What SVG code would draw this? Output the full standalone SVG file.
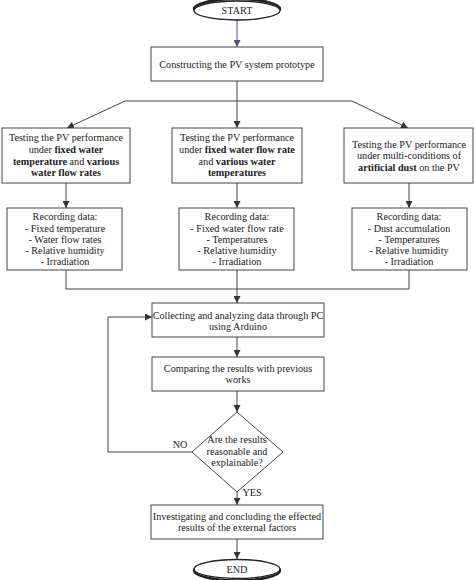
<svg xmlns="http://www.w3.org/2000/svg" width="474" height="580" viewBox="0 0 474 580">
<defs>
<marker id="ah" viewBox="0 0 10 10" refX="10" refY="5" markerWidth="7" markerHeight="7" markerUnits="userSpaceOnUse" orient="auto">
<path d="M0,0 L10,5 L0,10 z" fill="#333"/>
</marker>
<marker id="ahb" viewBox="0 0 10 10" refX="10" refY="5" markerWidth="7" markerHeight="7" markerUnits="userSpaceOnUse" orient="auto">
<path d="M0,0 L10,5 L0,10 z" fill="#3a5a8a"/>
</marker>
<style>
.box{fill:#fff;stroke:#444;stroke-width:1}
.term{fill:#fff;stroke:#222;stroke-width:1.3}
.ln{fill:none;stroke:#444;stroke-width:1}
.t{font-family:"Liberation Serif","Times New Roman",serif;font-size:10.2px;fill:#222;text-anchor:middle}
.b{font-weight:bold}
</style>
</defs>
<rect width="474" height="580" fill="#fff"/>
<g id="connectors">
<line x1="237" y1="20" x2="237" y2="47" stroke="#3a5a8a" stroke-width="1" marker-end="url(#ahb)"/>
<line class="ln" x1="237" y1="81" x2="237" y2="128" marker-end="url(#ah)"/>
<line class="ln" x1="125" y1="101" x2="352" y2="101"/>
<line class="ln" x1="125" y1="101" x2="67" y2="128" marker-end="url(#ah)"/>
<line class="ln" x1="352" y1="101" x2="408" y2="128" marker-end="url(#ah)"/>
<line class="ln" x1="66" y1="183" x2="66" y2="208" marker-end="url(#ah)"/>
<line class="ln" x1="237" y1="183" x2="237" y2="208" marker-end="url(#ah)"/>
<line class="ln" x1="409" y1="183" x2="409" y2="208" marker-end="url(#ah)"/>
<polyline class="ln" points="66,270 66,289 409,289 409,270"/>
<line class="ln" x1="237" y1="270" x2="237" y2="303" marker-end="url(#ah)"/>
<line class="ln" x1="237" y1="337" x2="237" y2="357" marker-end="url(#ah)"/>
<line class="ln" x1="237" y1="391" x2="237" y2="412" marker-end="url(#ah)"/>
<polyline class="ln" points="192,452 108,452 108,317 152,317" marker-end="url(#ah)"/>
<line class="ln" x1="237" y1="492" x2="237" y2="505" marker-end="url(#ah)"/>
<line class="ln" x1="237" y1="539" x2="237" y2="559" marker-end="url(#ah)"/>
<text class="t" x="180" y="448">NO</text>
<text class="t" x="252" y="496">YES</text>
</g>
<g id="start">
<ellipse cx="237" cy="9" rx="43" ry="10" fill="none" stroke="#222" stroke-width="2.5"/>
<ellipse class="term" cx="237" cy="10.5" rx="43" ry="9.5"/>
<text class="t" x="237" y="14">START</text>
</g>
<g id="construct">
<rect class="box" x="151" y="47" width="172" height="34"/>
<text class="t" x="237" y="68">Constructing the PV system prototype</text>
</g>
<g id="test1">
<rect class="box" x="2" y="128" width="128" height="55"/>
<text class="t" x="66" y="141">Testing the PV performance</text>
<text class="t" x="66" y="153">under <tspan class="b">fixed water</tspan></text>
<text class="t" x="66" y="164.5"><tspan class="b">temperature</tspan> and <tspan class="b">various</tspan></text>
<text class="t" x="66" y="176"><tspan class="b">water flow rates</tspan></text>
</g>
<g id="test2">
<rect class="box" x="172" y="128" width="130" height="55"/>
<text class="t" x="237" y="141">Testing the PV performance</text>
<text class="t" x="237" y="153">under <tspan class="b">fixed water flow rate</tspan></text>
<text class="t" x="237" y="164.5">and <tspan class="b">various water</tspan></text>
<text class="t" x="237" y="176"><tspan class="b">temperatures</tspan></text>
</g>
<g id="test3">
<rect class="box" x="344" y="128" width="129" height="55"/>
<text class="t" x="409" y="148">Testing the PV performance</text>
<text class="t" x="409" y="159">under multi-conditions of</text>
<text class="t" x="409" y="170.5"><tspan class="b">artificial dust</tspan> on the PV</text>
</g>
<g id="rec1">
<rect class="box" x="7" y="208" width="115" height="62"/>
<text class="t" x="65" y="220">Recording data:</text>
<text class="t" x="65" y="231.5">- Fixed temperature</text>
<text class="t" x="65" y="243">- Water flow rates</text>
<text class="t" x="65" y="254">- Relative humidity</text>
<text class="t" x="65" y="265">- Irradiation</text>
</g>
<g id="rec2">
<rect class="box" x="179" y="208" width="115" height="62"/>
<text class="t" x="237" y="220">Recording data:</text>
<text class="t" x="237" y="231.5">- Fixed water flow rate</text>
<text class="t" x="237" y="243">- Temperatures</text>
<text class="t" x="237" y="254">- Relative humidity</text>
<text class="t" x="237" y="265">- Irradiation</text>
</g>
<g id="rec3">
<rect class="box" x="352" y="208" width="115" height="62"/>
<text class="t" x="409" y="220">Recording data:</text>
<text class="t" x="409" y="231.5">- Dust accumulation</text>
<text class="t" x="409" y="243">- Temperatures</text>
<text class="t" x="409" y="254">- Relative humidity</text>
<text class="t" x="409" y="265">- Irradiation</text>
</g>
<g id="collect">
<rect class="box" x="152" y="303" width="172" height="34"/>
<text class="t" x="238" y="319">Collecting and analyzing data through PC</text>
<text class="t" x="238" y="330">using Arduino</text>
</g>
<g id="compare">
<rect class="box" x="152" y="357" width="172" height="34"/>
<text class="t" x="238" y="372">Comparing the results with previous</text>
<text class="t" x="238" y="383">works</text>
</g>
<g id="decision">
<polygon class="box" points="237,412 283,452 237,492 192,452"/>
<text class="t" x="237" y="443">Are the results</text>
<text class="t" x="237" y="454.5">reasonable and</text>
<text class="t" x="237" y="466">explainable?</text>
</g>
<g id="investigate">
<rect class="box" x="151" y="505" width="172" height="34"/>
<text class="t" x="237" y="520">Investigating and concluding the effected</text>
<text class="t" x="237" y="531">results of the external factors</text>
</g>
<g id="end">
<ellipse cx="237" cy="570.5" rx="43" ry="10" fill="none" stroke="#222" stroke-width="2.5"/>
<ellipse class="term" cx="237" cy="569" rx="43" ry="9.5"/>
<text class="t" x="237" y="572.5">END</text>
</g>
</svg>
